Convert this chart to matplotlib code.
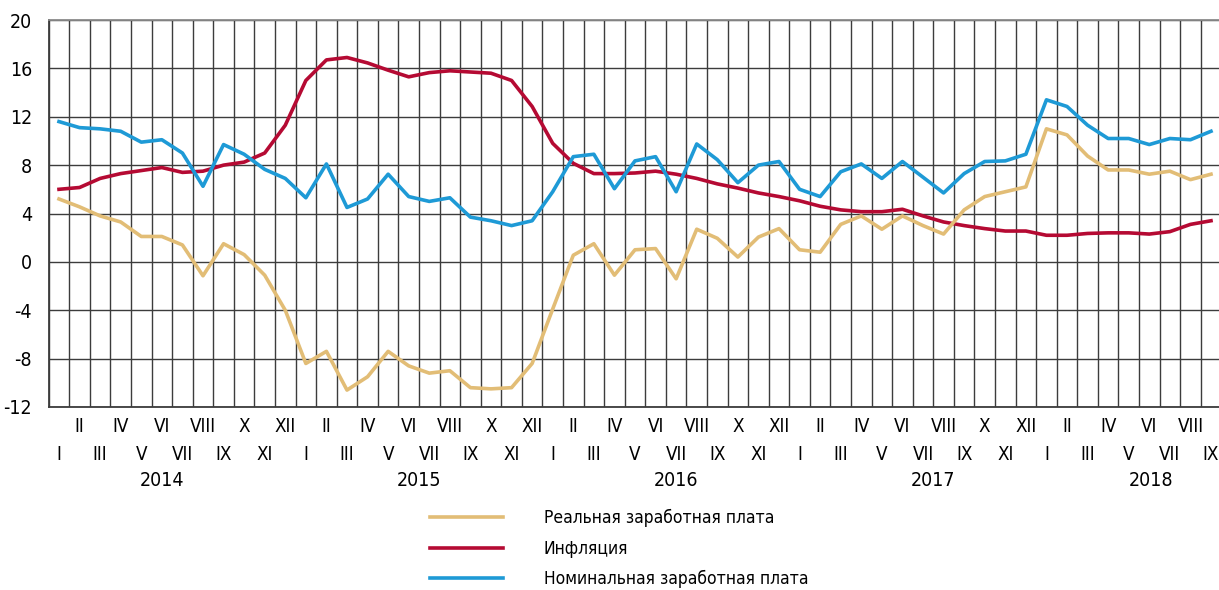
import matplotlib
matplotlib.use("Agg")
import matplotlib.pyplot as plt
from matplotlib.transforms import blended_transform_factory

plt.rcParams['font.family'] = ['DejaVu Sans']
plt.rcParams['font.stretch'] = 'condensed'
plt.rcParams['axes.unicode_minus'] = False

# месяцы с I.2014 по IX.2018
months = ["I", "II", "III", "IV", "V", "VI", "VII", "VIII", "IX", "X", "XI", "XII"]
month_labels = (months * 5)[:57]
years = ["2014", "2015", "2016", "2017", "2018"]

real_wage = [5.2, 4.55, 3.8, 3.3, 2.1, 2.1, 1.4, -1.15, 1.5, 0.6, -1.1, -4.0,
             -8.4, -7.4, -10.6, -9.5, -7.4, -8.6, -9.2, -9.0, -10.4, -10.5,
             -10.4, -8.4, -3.9, 0.55, 1.5, -1.1, 1.0, 1.1, -1.4, 2.7,
             1.95, 0.4, 2.05, 2.75, 1.0, 0.8, 3.1, 3.8, 2.7, 3.8,
             3.0, 2.3, 4.3, 5.4, 5.8, 6.2, 11.0, 10.5, 8.75, 7.6,
             7.6, 7.25, 7.5, 6.8, 7.25]
inflation = [6.0, 6.15, 6.9, 7.3, 7.55, 7.8, 7.4, 7.5, 8.0, 8.25, 9.0, 11.3,
             15.0, 16.7, 16.9, 16.45, 15.85, 15.3, 15.65, 15.8, 15.7, 15.6,
             15.0, 12.85, 9.8, 8.15, 7.3, 7.3, 7.35, 7.5, 7.25, 6.9,
             6.45, 6.1, 5.7, 5.4, 5.05, 4.6, 4.3, 4.15, 4.15, 4.35,
             3.8, 3.3, 3.0, 2.75, 2.55, 2.55, 2.2, 2.2, 2.35, 2.4,
             2.4, 2.3, 2.5, 3.1, 3.4]
nominal_wage = [11.6, 11.1, 11.0, 10.8, 9.9, 10.1, 9.0, 6.25, 9.7, 8.9, 7.65, 6.9,
                5.3, 8.1, 4.5, 5.2, 7.25, 5.4, 5.0, 5.3, 3.7, 3.4,
                3.0, 3.4, 5.8, 8.7, 8.9, 6.05, 8.35, 8.7, 5.8, 9.75,
                8.45, 6.55, 8.0, 8.3, 6.0, 5.4, 7.45, 8.1, 6.9, 8.3,
                7.0, 5.7, 7.3, 8.3, 8.35, 8.9, 13.4, 12.85, 11.3, 10.2,
                10.2, 9.7, 10.2, 10.1, 10.8]

labels = ["Реальная заработная плата", "Инфляция", "Номинальная заработная плата"]
colors = ["#e2bd76", "#b50a33", "#1e9ad6"]

x = list(range(len(month_labels)))

fig = plt.figure(figsize=(12.19, 5.90), dpi=100)
ax = fig.add_axes([48.7 / 1219, 1 - 407 / 590, 1172.6 / 1219, 387 / 590])

l_inf, = ax.plot(x, inflation, color=colors[1], lw=2.6, zorder=3)
l_real, = ax.plot(x, real_wage, color=colors[0], lw=2.6, zorder=3)
l_nom, = ax.plot(x, nominal_wage, color=colors[2], lw=2.6, zorder=4)

ax.set_xlim(-0.5, len(x) - 0.5)
ax.set_ylim(-12, 20)
ax.set_yticks(range(-12, 21, 4))
ax.set_xticks([i - 0.5 for i in range(len(x) + 1)])
ax.set_xticklabels([])
ax.tick_params(axis='x', length=0)
ax.tick_params(axis='y', length=0, pad=12, labelsize=14)
ax.grid(True, color="#3c3c3c", lw=1.0, zorder=1)
for s in ax.spines.values():
    s.set_color("#3c3c3c")
    s.set_linewidth(1.3)
ax.spines['top'].set_color("#8a8a8a")

# подписи месяцев в два ряда и годы
tr = blended_transform_factory(ax.transData, fig.transFigure)
for i, m in enumerate(month_labels):
    ypix = 427 if i % 2 == 1 else 454
    ax.text(i, 1 - ypix / 590, m, transform=tr, ha='center', va='center',
            fontsize=13.5)
year_pos = [5.0, 17.5, 30.0, 42.5, 53.1]
for p, yr in zip(year_pos, years):
    ax.text(p, 1 - 481 / 590, yr, transform=tr, ha='center', va='center',
            fontsize=14)

fig.legend([l_real, l_inf, l_nom], labels, loc='upper left',
           bbox_to_anchor=(430 / 1219, 1 - 509 / 590), frameon=False,
           fontsize=12.5, handlelength=4.2, handletextpad=2.35,
           labelspacing=0.72, borderpad=0, borderaxespad=0)

fig.savefig("out.png", dpi=100)
